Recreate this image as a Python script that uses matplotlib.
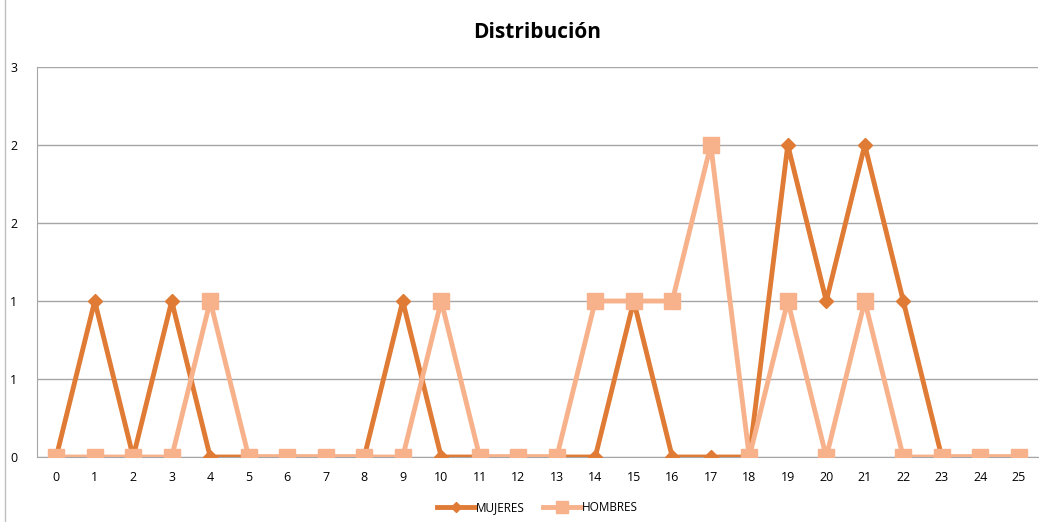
import matplotlib
matplotlib.use("Agg")
import matplotlib.pyplot as plt
from matplotlib.lines import Line2D

plt.rcParams['font.family'] = ['Open Sans', 'DejaVu Sans']

dias = list(range(26))
mujeres = [0, 1, 0, 1, 0, 0, 0, 0, 0, 1, 0, 0, 0, 0, 0, 1, 0, 0, 0, 2, 1, 2, 1, 0, 0, 0]
hombres = [0, 0, 0, 0, 1, 0, 0, 0, 0, 0, 1, 0, 0, 0, 1, 1, 1, 2, 0, 1, 0, 1, 0, 0, 0, 0]
y_ticks = [0, 0.5, 1, 1.5, 2, 2.5]
y_labels = ['0', '1', '1', '2', '2', '3']

c_muj = '#E07B35'
c_hom = '#F7B28C'

fig = plt.figure(figsize=(10.44, 5.22), dpi=100)
ax = fig.add_axes([0.0354, 0.1245, 0.9589, 0.7471])

ax.plot(dias, mujeres, color=c_muj, lw=3.5, marker='D', ms=7, label='MUJERES', zorder=3)
ax.plot(dias, hombres, color=c_hom, lw=3.5, marker='s', ms=11.5, label='HOMBRES', zorder=4)

ax.set_xlim(-0.5, 25.5)
ax.set_ylim(0, 2.5)
ax.set_xticks(dias)
ax.set_yticks(y_ticks)
ax.set_yticklabels(y_labels)
ax.tick_params(length=0, labelsize=9, colors='black')
ax.tick_params(axis='x', pad=10)
ax.tick_params(axis='y', pad=14)
ax.grid(axis='y', color='#A6A6A6', lw=1)
ax.set_axisbelow(True)
for s in ['top', 'right']:
    ax.spines[s].set_visible(False)
for s in ['left', 'bottom']:
    ax.spines[s].set_color('#A6A6A6')

ax.set_title('Distribución', fontsize=15, fontweight='bold', pad=21)

ax.legend(loc='upper center', bbox_to_anchor=(0.5, -0.085), ncol=2, frameon=False,
          fontsize=8.5, handlelength=3.2, handletextpad=0.1, columnspacing=1.5,
          markerscale=0.8)

# chart frame on the left edge
fig.add_artist(Line2D([0.0048, 0.0048], [0, 1], color='#BFBFBF', lw=1))

fig.savefig('out.png', dpi=100)
